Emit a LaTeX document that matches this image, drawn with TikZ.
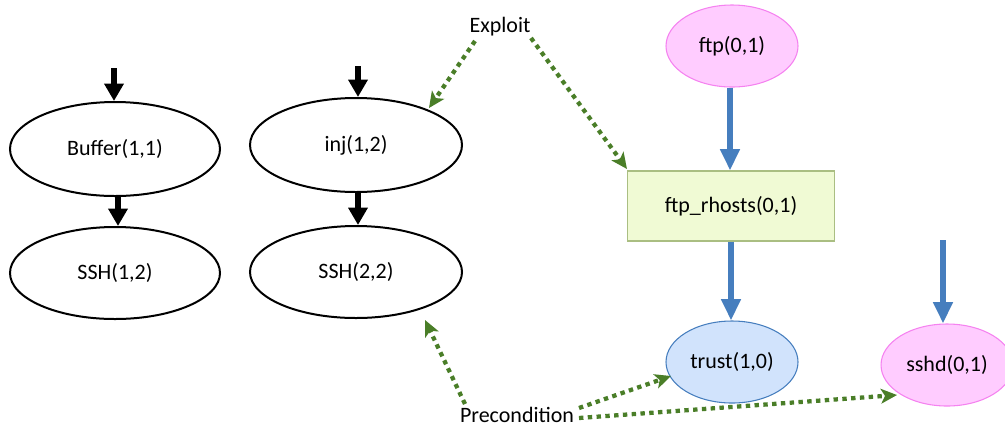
\documentclass[tikz,border=0pt]{standalone}
\usepackage{fontspec}
\setmainfont{Carlito}
\usetikzlibrary{shapes.geometric,arrows.meta}
\definecolor{grn}{RGB}{74,126,40}
\definecolor{blu}{RGB}{70,126,190}
\definecolor{pinkfill}{RGB}{255,204,255}
\definecolor{pinkdraw}{RGB}{245,130,240}
\definecolor{trustfill}{RGB}{209,227,252}
\definecolor{rectfill}{RGB}{240,250,212}
\definecolor{rectdraw}{RGB}{170,190,130}
\tikzset{
  txt/.style={font=\fontsize{16.5}{19}\selectfont},
  ell/.style={ellipse, draw=black, line width=1.5pt, inner sep=0pt, txt},
  pinkell/.style={ellipse, draw=pinkdraw, fill=pinkfill, line width=0.8pt, inner sep=0pt, txt},
  blackarr/.style={line width=4.5pt, -{Triangle[width=14pt,length=13pt]}},
  bluearr/.style={line width=5pt, blu, -{Triangle[width=14pt,length=16pt]}},
  grnarr/.style={line width=3.2pt, grn, dash pattern=on 3.3pt off 3.3pt, -{Stealth[width=11pt,length=12pt,inset=3pt]}},
}
\begin{document}
\begin{tikzpicture}[x=0.75pt,y=-0.75pt]
\useasboundingbox (0,0) rectangle (1005,430);
% left graph
\node[ell, minimum width=210*0.75pt, minimum height=94*0.75pt] (buf) at (115,149) {Buffer(1,1)};
\node[ell, minimum width=210*0.75pt, minimum height=92*0.75pt] (ssh12) at (115,273) {SSH(1,2)};
\node[ell, minimum width=212*0.75pt, minimum height=94*0.75pt] (inj) at (356,145) {inj(1,2)};
\node[ell, minimum width=212*0.75pt, minimum height=92*0.75pt] (ssh22) at (356,272) {SSH(2,2)};
\coordinate (bufin) at (114,68);
\coordinate (injin) at (358,66);
\draw[blackarr] (bufin) -- (buf.north -| bufin);
\draw[blackarr] (buf.south -| 118,0) -- (ssh12.north -| 118,0);
\draw[blackarr] (injin) -- (inj.north -| injin);
\draw[blackarr] (inj.south -| 358,0) -- (ssh22.north -| 358,0);
% right graph
\node[pinkell, minimum width=132*0.75pt, minimum height=82*0.75pt] (ftp) at (732,46) {ftp(0,1)};
\node[rectangle, draw=rectdraw, fill=rectfill, line width=0.8pt, minimum width=207*0.75pt, minimum height=70*0.75pt, txt] (rh) at (731,206) {ftp\_rhosts(0,1)};
\node[ellipse, draw=blu, fill=trustfill, line width=0.8pt, inner sep=0pt, minimum width=132*0.75pt, minimum height=82*0.75pt, txt] (trust) at (732,362) {trust(1,0)};
\node[pinkell, minimum width=132*0.75pt, minimum height=82*0.75pt] (sshd) at (947,365) {sshd(0,1)};
\draw[bluearr] (ftp.south -| 730,0) -- (rh.north -| 730,0);
\draw[bluearr] (rh.south -| 731,0) -- (trust.north -| 731,0);
\coordinate (sshdin) at (943,240);
\draw[bluearr] (sshdin) -- (sshd.north -| sshdin);
% labels
\node[txt, inner sep=1pt] (exploit) at (500,27) {Exploit};
\node[txt, inner sep=1pt] (pre) at (517,415) {Precondition};
\coordinate (e1) at (429,108);
\coordinate (e2) at (627,169);
\coordinate (p1) at (425,320);
\coordinate (p2) at (671,376);
\coordinate (p3) at (897,395);
\draw[grnarr] (475,41) -- (e1);
\draw[grnarr] (531,38) -- (e2);
\draw[grnarr] (465,404) -- (p1);
\draw[grnarr] (579,408) -- (p2);
\draw[grnarr] (579,418) -- (p3);
\end{tikzpicture}
\end{document}
